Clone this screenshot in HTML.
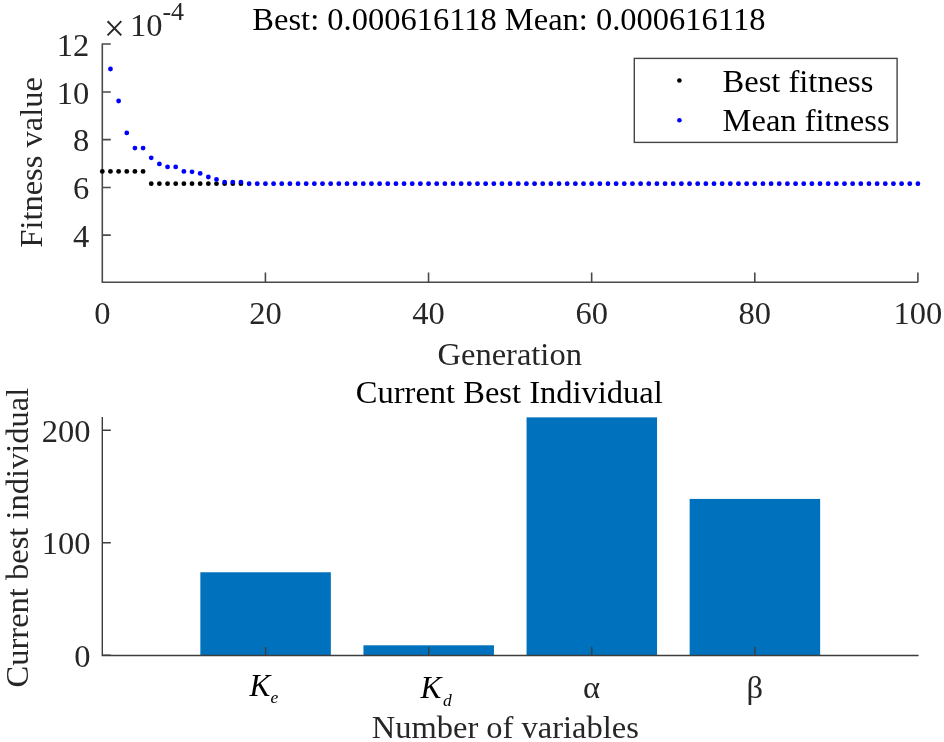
<!DOCTYPE html>
<html><head><meta charset="utf-8"><title>GA fitness plot</title>
<style>
html,body{margin:0;padding:0;background:#fff;}
svg{display:block;will-change:transform;filter:blur(0.4px);}
text{font-family:"Liberation Serif","DejaVu Serif",serif;fill:#262626;}
.t{font-size:32.5px;}
.l{font-size:32.5px;}
.k{font-size:32.5px;fill:#000;}
.i{font-size:31.3px;font-style:italic;fill:#000;}
</style></head><body>
<svg width="944" height="742" viewBox="0 0 944 742">
<rect width="944" height="742" fill="#fff"/>
<path d="M102.3 43.6 V282.2 H917.9" fill="none" stroke="#4a4a4a" stroke-width="1.6"/>
<path d="M102.3 235.10 h8.5 M102.3 187.45 h8.5 M102.3 139.60 h8.5 M102.3 92.05 h8.5 M102.3 44.00 h8.5 M265.42 282.2 v-9.6 M428.54 282.2 v-9.6 M591.66 282.2 v-9.6 M754.78 282.2 v-9.6 M917.90 282.2 v-9.6 " fill="none" stroke="#4a4a4a" stroke-width="1.6"/>
<text class="t" x="89.3" y="246.80" text-anchor="end">4</text>
<text class="t" x="89.3" y="199.15" text-anchor="end">6</text>
<text class="t" x="89.3" y="151.30" text-anchor="end">8</text>
<text class="t" x="89.3" y="103.75" text-anchor="end">10</text>
<text class="t" x="89.3" y="55.70" text-anchor="end">12</text>
<text class="t" x="102.30" y="323.6" text-anchor="middle">0</text>
<text class="t" x="265.42" y="323.6" text-anchor="middle">20</text>
<text class="t" x="428.54" y="323.6" text-anchor="middle">40</text>
<text class="t" x="591.66" y="323.6" text-anchor="middle">60</text>
<text class="t" x="754.78" y="323.6" text-anchor="middle">80</text>
<text class="t" x="917.90" y="323.6" text-anchor="middle">100</text>
<text class="t" x="104" y="35.6"><tspan font-size="37" dy="5.1">×</tspan><tspan dy="-5.1" dx="5">10</tspan><tspan dy="-15.7" font-size="26">-4</tspan></text>
<text class="k" x="508.9" y="29.9" text-anchor="middle" font-size="32.65">Best: 0.000616118 Mean: 0.000616118</text>
<text class="l" x="509.7" y="364.6" text-anchor="middle">Generation</text>
<text class="l" transform="translate(41.5,162.4) rotate(-90)" text-anchor="middle">Fitness value</text>
<circle cx="102.30" cy="171.40" r="2.4" fill="#000"/>
<circle cx="110.46" cy="171.40" r="2.4" fill="#000"/>
<circle cx="118.61" cy="171.40" r="2.4" fill="#000"/>
<circle cx="126.77" cy="171.40" r="2.4" fill="#000"/>
<circle cx="134.92" cy="171.40" r="2.4" fill="#000"/>
<circle cx="143.08" cy="171.40" r="2.4" fill="#000"/>
<circle cx="151.24" cy="183.70" r="2.4" fill="#000"/>
<circle cx="159.39" cy="183.70" r="2.4" fill="#000"/>
<circle cx="167.55" cy="183.70" r="2.4" fill="#000"/>
<circle cx="175.70" cy="183.70" r="2.4" fill="#000"/>
<circle cx="183.86" cy="183.70" r="2.4" fill="#000"/>
<circle cx="192.02" cy="183.70" r="2.4" fill="#000"/>
<circle cx="200.17" cy="183.70" r="2.4" fill="#000"/>
<circle cx="208.33" cy="183.70" r="2.4" fill="#000"/>
<circle cx="216.48" cy="183.70" r="2.4" fill="#000"/>
<circle cx="224.64" cy="183.70" r="2.4" fill="#000"/>
<circle cx="232.80" cy="183.70" r="2.4" fill="#000"/>
<circle cx="240.95" cy="183.70" r="2.4" fill="#000"/>
<circle cx="249.11" cy="183.70" r="1.9" fill="#000"/>
<circle cx="257.26" cy="183.70" r="1.9" fill="#000"/>
<circle cx="265.42" cy="183.70" r="1.9" fill="#000"/>
<circle cx="273.58" cy="183.70" r="1.9" fill="#000"/>
<circle cx="281.73" cy="183.70" r="1.9" fill="#000"/>
<circle cx="289.89" cy="183.70" r="1.9" fill="#000"/>
<circle cx="298.04" cy="183.70" r="1.9" fill="#000"/>
<circle cx="306.20" cy="183.70" r="1.9" fill="#000"/>
<circle cx="314.36" cy="183.70" r="1.9" fill="#000"/>
<circle cx="322.51" cy="183.70" r="1.9" fill="#000"/>
<circle cx="330.67" cy="183.70" r="1.9" fill="#000"/>
<circle cx="338.82" cy="183.70" r="1.9" fill="#000"/>
<circle cx="346.98" cy="183.70" r="1.9" fill="#000"/>
<circle cx="355.14" cy="183.70" r="1.9" fill="#000"/>
<circle cx="363.29" cy="183.70" r="1.9" fill="#000"/>
<circle cx="371.45" cy="183.70" r="1.9" fill="#000"/>
<circle cx="379.60" cy="183.70" r="1.9" fill="#000"/>
<circle cx="387.76" cy="183.70" r="1.9" fill="#000"/>
<circle cx="395.92" cy="183.70" r="1.9" fill="#000"/>
<circle cx="404.07" cy="183.70" r="1.9" fill="#000"/>
<circle cx="412.23" cy="183.70" r="1.9" fill="#000"/>
<circle cx="420.38" cy="183.70" r="1.9" fill="#000"/>
<circle cx="428.54" cy="183.70" r="1.9" fill="#000"/>
<circle cx="436.70" cy="183.70" r="1.9" fill="#000"/>
<circle cx="444.85" cy="183.70" r="1.9" fill="#000"/>
<circle cx="453.01" cy="183.70" r="1.9" fill="#000"/>
<circle cx="461.16" cy="183.70" r="1.9" fill="#000"/>
<circle cx="469.32" cy="183.70" r="1.9" fill="#000"/>
<circle cx="477.48" cy="183.70" r="1.9" fill="#000"/>
<circle cx="485.63" cy="183.70" r="1.9" fill="#000"/>
<circle cx="493.79" cy="183.70" r="1.9" fill="#000"/>
<circle cx="501.94" cy="183.70" r="1.9" fill="#000"/>
<circle cx="510.10" cy="183.70" r="1.9" fill="#000"/>
<circle cx="518.26" cy="183.70" r="1.9" fill="#000"/>
<circle cx="526.41" cy="183.70" r="1.9" fill="#000"/>
<circle cx="534.57" cy="183.70" r="1.9" fill="#000"/>
<circle cx="542.72" cy="183.70" r="1.9" fill="#000"/>
<circle cx="550.88" cy="183.70" r="1.9" fill="#000"/>
<circle cx="559.04" cy="183.70" r="1.9" fill="#000"/>
<circle cx="567.19" cy="183.70" r="1.9" fill="#000"/>
<circle cx="575.35" cy="183.70" r="1.9" fill="#000"/>
<circle cx="583.50" cy="183.70" r="1.9" fill="#000"/>
<circle cx="591.66" cy="183.70" r="1.9" fill="#000"/>
<circle cx="599.82" cy="183.70" r="1.9" fill="#000"/>
<circle cx="607.97" cy="183.70" r="1.9" fill="#000"/>
<circle cx="616.13" cy="183.70" r="1.9" fill="#000"/>
<circle cx="624.28" cy="183.70" r="1.9" fill="#000"/>
<circle cx="632.44" cy="183.70" r="1.9" fill="#000"/>
<circle cx="640.60" cy="183.70" r="1.9" fill="#000"/>
<circle cx="648.75" cy="183.70" r="1.9" fill="#000"/>
<circle cx="656.91" cy="183.70" r="1.9" fill="#000"/>
<circle cx="665.06" cy="183.70" r="1.9" fill="#000"/>
<circle cx="673.22" cy="183.70" r="1.9" fill="#000"/>
<circle cx="681.38" cy="183.70" r="1.9" fill="#000"/>
<circle cx="689.53" cy="183.70" r="1.9" fill="#000"/>
<circle cx="697.69" cy="183.70" r="1.9" fill="#000"/>
<circle cx="705.84" cy="183.70" r="1.9" fill="#000"/>
<circle cx="714.00" cy="183.70" r="1.9" fill="#000"/>
<circle cx="722.16" cy="183.70" r="1.9" fill="#000"/>
<circle cx="730.31" cy="183.70" r="1.9" fill="#000"/>
<circle cx="738.47" cy="183.70" r="1.9" fill="#000"/>
<circle cx="746.62" cy="183.70" r="1.9" fill="#000"/>
<circle cx="754.78" cy="183.70" r="1.9" fill="#000"/>
<circle cx="762.94" cy="183.70" r="1.9" fill="#000"/>
<circle cx="771.09" cy="183.70" r="1.9" fill="#000"/>
<circle cx="779.25" cy="183.70" r="1.9" fill="#000"/>
<circle cx="787.40" cy="183.70" r="1.9" fill="#000"/>
<circle cx="795.56" cy="183.70" r="1.9" fill="#000"/>
<circle cx="803.72" cy="183.70" r="1.9" fill="#000"/>
<circle cx="811.87" cy="183.70" r="1.9" fill="#000"/>
<circle cx="820.03" cy="183.70" r="1.9" fill="#000"/>
<circle cx="828.18" cy="183.70" r="1.9" fill="#000"/>
<circle cx="836.34" cy="183.70" r="1.9" fill="#000"/>
<circle cx="844.50" cy="183.70" r="1.9" fill="#000"/>
<circle cx="852.65" cy="183.70" r="1.9" fill="#000"/>
<circle cx="860.81" cy="183.70" r="1.9" fill="#000"/>
<circle cx="868.96" cy="183.70" r="1.9" fill="#000"/>
<circle cx="877.12" cy="183.70" r="1.9" fill="#000"/>
<circle cx="885.28" cy="183.70" r="1.9" fill="#000"/>
<circle cx="893.43" cy="183.70" r="1.9" fill="#000"/>
<circle cx="901.59" cy="183.70" r="1.9" fill="#000"/>
<circle cx="909.74" cy="183.70" r="1.9" fill="#000"/>
<circle cx="917.90" cy="183.70" r="1.9" fill="#000"/>
<circle cx="110.46" cy="69.00" r="2.4" fill="#0000ff"/>
<circle cx="118.61" cy="101.00" r="2.4" fill="#0000ff"/>
<circle cx="126.77" cy="132.90" r="2.4" fill="#0000ff"/>
<circle cx="134.92" cy="148.10" r="2.4" fill="#0000ff"/>
<circle cx="143.08" cy="148.10" r="2.4" fill="#0000ff"/>
<circle cx="151.24" cy="157.80" r="2.4" fill="#0000ff"/>
<circle cx="159.39" cy="163.90" r="2.4" fill="#0000ff"/>
<circle cx="167.55" cy="166.90" r="2.4" fill="#0000ff"/>
<circle cx="175.70" cy="166.90" r="2.4" fill="#0000ff"/>
<circle cx="183.86" cy="171.40" r="2.4" fill="#0000ff"/>
<circle cx="192.02" cy="171.80" r="2.4" fill="#0000ff"/>
<circle cx="200.17" cy="173.40" r="2.4" fill="#0000ff"/>
<circle cx="208.33" cy="177.00" r="2.4" fill="#0000ff"/>
<circle cx="216.48" cy="179.40" r="2.4" fill="#0000ff"/>
<circle cx="224.64" cy="182.10" r="2.4" fill="#0000ff"/>
<circle cx="232.80" cy="182.10" r="2.4" fill="#0000ff"/>
<circle cx="240.95" cy="182.10" r="2.4" fill="#0000ff"/>
<circle cx="249.11" cy="183.70" r="2.4" fill="#0000ff"/>
<circle cx="257.26" cy="183.70" r="2.4" fill="#0000ff"/>
<circle cx="265.42" cy="183.70" r="2.4" fill="#0000ff"/>
<circle cx="273.58" cy="183.70" r="2.4" fill="#0000ff"/>
<circle cx="281.73" cy="183.70" r="2.4" fill="#0000ff"/>
<circle cx="289.89" cy="183.70" r="2.4" fill="#0000ff"/>
<circle cx="298.04" cy="183.70" r="2.4" fill="#0000ff"/>
<circle cx="306.20" cy="183.70" r="2.4" fill="#0000ff"/>
<circle cx="314.36" cy="183.70" r="2.4" fill="#0000ff"/>
<circle cx="322.51" cy="183.70" r="2.4" fill="#0000ff"/>
<circle cx="330.67" cy="183.70" r="2.4" fill="#0000ff"/>
<circle cx="338.82" cy="183.70" r="2.4" fill="#0000ff"/>
<circle cx="346.98" cy="183.70" r="2.4" fill="#0000ff"/>
<circle cx="355.14" cy="183.70" r="2.4" fill="#0000ff"/>
<circle cx="363.29" cy="183.70" r="2.4" fill="#0000ff"/>
<circle cx="371.45" cy="183.70" r="2.4" fill="#0000ff"/>
<circle cx="379.60" cy="183.70" r="2.4" fill="#0000ff"/>
<circle cx="387.76" cy="183.70" r="2.4" fill="#0000ff"/>
<circle cx="395.92" cy="183.70" r="2.4" fill="#0000ff"/>
<circle cx="404.07" cy="183.70" r="2.4" fill="#0000ff"/>
<circle cx="412.23" cy="183.70" r="2.4" fill="#0000ff"/>
<circle cx="420.38" cy="183.70" r="2.4" fill="#0000ff"/>
<circle cx="428.54" cy="183.70" r="2.4" fill="#0000ff"/>
<circle cx="436.70" cy="183.70" r="2.4" fill="#0000ff"/>
<circle cx="444.85" cy="183.70" r="2.4" fill="#0000ff"/>
<circle cx="453.01" cy="183.70" r="2.4" fill="#0000ff"/>
<circle cx="461.16" cy="183.70" r="2.4" fill="#0000ff"/>
<circle cx="469.32" cy="183.70" r="2.4" fill="#0000ff"/>
<circle cx="477.48" cy="183.70" r="2.4" fill="#0000ff"/>
<circle cx="485.63" cy="183.70" r="2.4" fill="#0000ff"/>
<circle cx="493.79" cy="183.70" r="2.4" fill="#0000ff"/>
<circle cx="501.94" cy="183.70" r="2.4" fill="#0000ff"/>
<circle cx="510.10" cy="183.70" r="2.4" fill="#0000ff"/>
<circle cx="518.26" cy="183.70" r="2.4" fill="#0000ff"/>
<circle cx="526.41" cy="183.70" r="2.4" fill="#0000ff"/>
<circle cx="534.57" cy="183.70" r="2.4" fill="#0000ff"/>
<circle cx="542.72" cy="183.70" r="2.4" fill="#0000ff"/>
<circle cx="550.88" cy="183.70" r="2.4" fill="#0000ff"/>
<circle cx="559.04" cy="183.70" r="2.4" fill="#0000ff"/>
<circle cx="567.19" cy="183.70" r="2.4" fill="#0000ff"/>
<circle cx="575.35" cy="183.70" r="2.4" fill="#0000ff"/>
<circle cx="583.50" cy="183.70" r="2.4" fill="#0000ff"/>
<circle cx="591.66" cy="183.70" r="2.4" fill="#0000ff"/>
<circle cx="599.82" cy="183.70" r="2.4" fill="#0000ff"/>
<circle cx="607.97" cy="183.70" r="2.4" fill="#0000ff"/>
<circle cx="616.13" cy="183.70" r="2.4" fill="#0000ff"/>
<circle cx="624.28" cy="183.70" r="2.4" fill="#0000ff"/>
<circle cx="632.44" cy="183.70" r="2.4" fill="#0000ff"/>
<circle cx="640.60" cy="183.70" r="2.4" fill="#0000ff"/>
<circle cx="648.75" cy="183.70" r="2.4" fill="#0000ff"/>
<circle cx="656.91" cy="183.70" r="2.4" fill="#0000ff"/>
<circle cx="665.06" cy="183.70" r="2.4" fill="#0000ff"/>
<circle cx="673.22" cy="183.70" r="2.4" fill="#0000ff"/>
<circle cx="681.38" cy="183.70" r="2.4" fill="#0000ff"/>
<circle cx="689.53" cy="183.70" r="2.4" fill="#0000ff"/>
<circle cx="697.69" cy="183.70" r="2.4" fill="#0000ff"/>
<circle cx="705.84" cy="183.70" r="2.4" fill="#0000ff"/>
<circle cx="714.00" cy="183.70" r="2.4" fill="#0000ff"/>
<circle cx="722.16" cy="183.70" r="2.4" fill="#0000ff"/>
<circle cx="730.31" cy="183.70" r="2.4" fill="#0000ff"/>
<circle cx="738.47" cy="183.70" r="2.4" fill="#0000ff"/>
<circle cx="746.62" cy="183.70" r="2.4" fill="#0000ff"/>
<circle cx="754.78" cy="183.70" r="2.4" fill="#0000ff"/>
<circle cx="762.94" cy="183.70" r="2.4" fill="#0000ff"/>
<circle cx="771.09" cy="183.70" r="2.4" fill="#0000ff"/>
<circle cx="779.25" cy="183.70" r="2.4" fill="#0000ff"/>
<circle cx="787.40" cy="183.70" r="2.4" fill="#0000ff"/>
<circle cx="795.56" cy="183.70" r="2.4" fill="#0000ff"/>
<circle cx="803.72" cy="183.70" r="2.4" fill="#0000ff"/>
<circle cx="811.87" cy="183.70" r="2.4" fill="#0000ff"/>
<circle cx="820.03" cy="183.70" r="2.4" fill="#0000ff"/>
<circle cx="828.18" cy="183.70" r="2.4" fill="#0000ff"/>
<circle cx="836.34" cy="183.70" r="2.4" fill="#0000ff"/>
<circle cx="844.50" cy="183.70" r="2.4" fill="#0000ff"/>
<circle cx="852.65" cy="183.70" r="2.4" fill="#0000ff"/>
<circle cx="860.81" cy="183.70" r="2.4" fill="#0000ff"/>
<circle cx="868.96" cy="183.70" r="2.4" fill="#0000ff"/>
<circle cx="877.12" cy="183.70" r="2.4" fill="#0000ff"/>
<circle cx="885.28" cy="183.70" r="2.4" fill="#0000ff"/>
<circle cx="893.43" cy="183.70" r="2.4" fill="#0000ff"/>
<circle cx="901.59" cy="183.70" r="2.4" fill="#0000ff"/>
<circle cx="909.74" cy="183.70" r="2.4" fill="#0000ff"/>
<circle cx="917.90" cy="183.70" r="2.4" fill="#0000ff"/>
<rect x="634.3" y="58.4" width="262.8" height="84" fill="#fff" stroke="#444" stroke-width="1.4"/>
<circle cx="679.4" cy="80.5" r="2.3" fill="#000"/>
<circle cx="679.4" cy="120.2" r="2.3" fill="#0000ff"/>
<text class="k" x="722.6" y="91.7">Best fitness</text>
<text class="k" x="722.6" y="130.9">Mean fitness</text>
<rect x="200.35" y="572.27" width="130.5" height="83.23" fill="#0072bd"/>
<rect x="363.45" y="645.29" width="130.5" height="10.21" fill="#0072bd"/>
<rect x="526.55" y="417.36" width="130.5" height="238.14" fill="#0072bd"/>
<rect x="689.65" y="498.92" width="130.5" height="156.58" fill="#0072bd"/>
<path d="M102.3 417.0 V655.5 H918.6" fill="none" stroke="#3d3d3d" stroke-width="1.4"/>
<path d="M102.3 655.30 h8.5 M102.3 542.80 h8.5 M102.3 430.30 h8.5 M265.60 655.5 v-8.5 M428.70 655.5 v-8.5 M591.80 655.5 v-8.5 M754.90 655.5 v-8.5 " fill="none" stroke="#3d3d3d" stroke-width="1.4"/>
<text class="t" x="90.5" y="666.80" text-anchor="end">0</text>
<text class="t" x="90.5" y="554.30" text-anchor="end">100</text>
<text class="t" x="90.5" y="441.80" text-anchor="end">200</text>
<text class="i" x="249.4" y="695.5">K<tspan dy="7.5" dx="0.3" font-size="17.5">e</tspan></text>
<text class="i" x="420.6" y="698.3">K<tspan dy="7.6" dx="1.6" font-size="17.5">d</tspan></text>
<text class="t" x="591.4" y="697.6" text-anchor="middle" font-size="32">α</text>
<text class="t" x="754.7" y="697.7" text-anchor="middle" font-size="32">β</text>
<text class="k" x="509.3" y="403.1" text-anchor="middle">Current Best Individual</text>
<text class="l" x="505.3" y="737.6" text-anchor="middle">Number of variables</text>
<text class="l" transform="translate(27.5,537.6) rotate(-90)" text-anchor="middle">Current best individual</text>
</svg>
</body></html>
